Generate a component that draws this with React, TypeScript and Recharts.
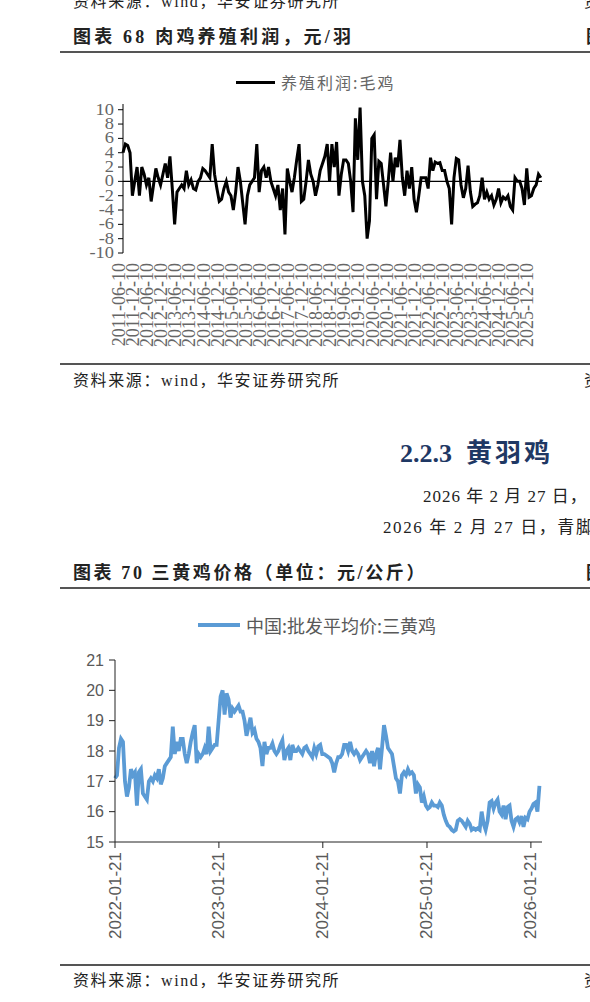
import React from 'react';
import { LineChart, Line, XAxis, YAxis, ReferenceLine } from 'recharts';

// 图表68 肉鸡养殖利润（元/羽），月度，起点 2011-06
const profitTickLabels = [
  '2011-06-10', '2011-12-10', '2012-06-10', '2012-12-10', '2013-06-10', '2013-12-10',
  '2014-06-10', '2014-12-10', '2015-06-10', '2015-12-10', '2016-06-10', '2016-12-10',
  '2017-06-10', '2017-12-10', '2018-06-10', '2018-12-10', '2019-06-10', '2019-12-10',
  '2020-06-10', '2020-12-10', '2021-06-10', '2021-12-10', '2022-06-10', '2022-12-10',
  '2023-06-10', '2023-12-10', '2024-06-10', '2024-12-10', '2025-06-10', '2025-12-10',
];

const profitValues = [
  4, 5.2, 5, 4, -2, 0, 2, -2, 2, 1,
  -0.5, 0.5, -2.8, -0.5, 1.8, 0.5, -0.5, 1, 2.5, 0.5,
  3.5, -1, -6, -1.5, -1, -0.5, -1, 1.5, -0.5, 0.2,
  -1, -1.2, 0, 0.5, 1.8, 1.5, 1, 0.5, 5.2, 1,
  -1, -2.8, -2.5, -1, 0, -1.5, -2, -4, -1.5, 2,
  0, -3, -6, -2, -0.5, 0, 0.5, 5.2, -1.5, 1.5,
  2, 0.5, 2, 0, -1, -2, -0.5, -4, -1, -7.4,
  1.8, 0, -1.5, 0.5, 3, 5.2, -2.8, -2.5, 0, 3,
  1, 0, -2, -0.5, 1.5, 2.5, 3.5, 5.2, 0, 5.2,
  2, 5.5, -2, 1, 3, 3, 2.5, 0, -4.3, 8.8,
  3, 10.3, 0, -2, -8, -5.5, 6, 6.5, -2.5, 2.8,
  2.5, -0.5, -3.5, 0, 4, 0, 3.3, 2, 5.8, 0.5,
  -2, 1.5, -1, 2, -2.5, -4.3, -2, 0.5, 0.5, 0.5,
  -1, 3.3, 1.5, 2.7, 2.5, 2.6, 1.5, 1.5, 0, -1,
  -6, 0.5, 3.2, 3, -0.5, -2.3, -1, 2.2, -1.5, -3.5,
  -3.2, -3, -2, 0.5, -2.5, -1.5, -2.5, -2, -3.3, -2.5,
  -1, -3, -2.2, -2.5, -2, -3.5, -4, 0.5, 0, 0,
  -1, -3.3, 1.8, -2.2, -2, -1, -0.5, 1, 0.5,
];

const profitTicksY = [-10, -8, -6, -4, -2, 0, 2, 4, 6, 8, 10];

// 图表70 中国:批发平均价:三黄鸡（元/公斤），周度，起点 2022-01-21
const priceStart = '2022-01-21';
const priceEnd = '2026-03-01';
const priceTickLabels = ['2022-01-21', '2023-01-21', '2024-01-21', '2025-01-21', '2026-01-21'];
const priceTicksY = [15, 16, 17, 18, 19, 20, 21];

const priceValues = [
  17.1, 17.2, 18.1, 18.4, 18.3, 17.0, 16.5, 16.8, 17.4, 17.2,
  17.3, 16.2, 17.3, 17.4, 16.6, 16.5, 16.4, 17.0, 17.1, 17.0,
  17.2, 17.1, 17.4, 16.9, 17.1, 17.5, 17.6, 17.7, 17.8, 18.8,
  17.9, 18.3, 18.0, 18.4, 18.4, 17.9, 17.6, 17.9, 18.3, 18.6,
  18.85, 17.6, 17.9, 17.8, 17.9, 18.1, 17.9, 18.8, 18.0, 18.1,
  18.2, 18.2, 19.0, 19.8, 20.0, 19.2, 19.9, 19.7, 19.1, 19.4,
  19.3, 19.4, 19.5, 19.3, 19.3, 19.0, 18.5, 18.8, 19.1, 18.6,
  18.7, 18.4, 18.3, 18.1, 17.5, 18.3, 17.9, 18.1, 18.1, 18.25,
  18.0, 17.9, 18.0, 18.2, 18.35, 17.7, 18.0, 18.1, 17.7, 18.2,
  18.0, 18.0, 18.1, 18.0, 17.9, 18.1, 18.15, 18.0, 17.9, 17.8,
  18.1, 17.9, 18.15, 18.2, 17.9, 17.9, 17.85, 17.8, 17.75, 17.6,
  17.3, 17.6, 17.8, 17.8, 17.9, 18.2, 18.2, 18.0, 18.3, 18.0,
  17.9, 18.0, 17.9, 17.7, 17.8, 17.9, 18.0, 17.9, 17.6, 18.0,
  17.5, 17.9, 18.1, 17.4, 18.1, 18.85, 18.5, 18.1, 18.0, 17.9,
  17.5, 17.1, 17.0, 16.6, 17.2, 17.3, 17.2, 17.4, 17.25, 17.3,
  17.2, 16.6, 16.9, 16.8, 16.3, 16.5, 16.2, 16.1, 16.15, 16.3,
  16.2, 16.2, 16.15, 16.3, 16.2, 15.9, 15.7, 15.55, 15.5, 15.4,
  15.35, 15.4, 15.7, 15.75, 15.7, 15.6, 15.5, 15.7, 15.6, 15.4,
  15.45, 15.4, 15.45, 15.4, 16.0, 15.6, 15.4, 15.7, 16.3, 16.35,
  16.1, 16.3, 16.4, 16.0, 15.9, 16.2, 15.75, 16.15, 16.2, 15.7,
  15.5, 15.75, 15.8, 15.65, 15.85, 15.5, 15.8, 15.75, 16.0, 16.1,
  16.25, 16.3, 16.0, 16.85,
];

const WEEK = 7 * 24 * 3600 * 1000;
const priceT0 = Date.parse(priceStart);
const priceData = priceValues.map((v, i) => ({ t: priceT0 + i * WEEK, v }));
const priceTicks = priceTickLabels.map((s) => Date.parse(s));

const profitData = profitValues.map((v, i) => ({ m: i, v }));
const profitTicks = profitTickLabels.map((_, i) => i * 6);

const serif = "'Liberation Serif', 'Noto Sans CJK SC', serif";
const cjk = "'Noto Sans CJK SC', sans-serif";

const ProfitXTick = ({ x, y, payload }: any) => {
  const label = profitTickLabels[Math.round(payload.value / 6)];
  const tx = x - 4;
  const ty = y + 2;
  return (
    <text
      x={tx}
      y={ty}
      transform={`rotate(-90, ${tx}, ${ty})`}
      textAnchor="end"
      dominantBaseline="central"
      fontFamily="'Liberation Serif', serif"
      fontSize={18}
      fill="#666"
    >
      {label}
    </text>
  );
};

// 纵轴数字略微横向拉宽，贴近原图
const ProfitYTick = ({ x, y, payload }: any) => (
  <g transform={`translate(${x}, ${y}) scale(1.15, 1)`}>
    <text
      x={0}
      y={0}
      textAnchor="end"
      dominantBaseline="central"
      fontFamily="'Liberation Serif', serif"
      fontSize={16}
      fill="#666"
    >
      {payload.value}
    </text>
  </g>
);

const PriceXTick = ({ x, y, payload }: any) => {
  const d = new Date(payload.value);
  const label = d.toISOString().slice(0, 10);
  const ty = y + 2;
  return (
    <text
      x={x}
      y={ty}
      transform={`rotate(-90, ${x}, ${ty})`}
      textAnchor="end"
      dominantBaseline="central"
      fontFamily="'Liberation Sans', sans-serif"
      fontSize={17}
      fill="#595959"
    >
      {label}
    </text>
  );
};

const Txt = ({ top, left, size, bold, color, children, family, spacing }: any) => (
  <div
    style={{
      position: 'absolute',
      top: top - size / 2,
      left,
      fontSize: size,
      lineHeight: `${size}px`,
      fontWeight: bold ? 700 : 400,
      color: color || '#222',
      fontFamily: family || serif,
      letterSpacing: spacing || 0,
      whiteSpace: 'nowrap',
    }}
  >
    {children}
  </div>
);

const Rule = ({ top }: { top: number }) => (
  <div style={{ position: 'absolute', top, left: 60, width: 540, height: 2, background: '#555' }} />
);

export default function App() {
  return (
    <div
      style={{
        position: 'absolute',
        left: 0,
        top: 0,
        width: 590,
        height: 1002,
        overflow: 'hidden',
        background: '#fff',
      }}
    >
      <Txt top={2} left={73} size={16} spacing={1.6}>资料来源：wind，华安证券研究所</Txt>
      <Txt top={2} left={584} size={16}>资</Txt>

      <Txt top={37} left={73} size={18} bold spacing={3.2}>图表 68 肉鸡养殖利润，元/羽</Txt>
      <Txt top={37} left={586} size={18} bold>图</Txt>
      <Rule top={51} />

      {/* 图例 1 */}
      <div style={{ position: 'absolute', top: 81, left: 236, width: 39, height: 3, background: '#000' }} />
      <Txt top={82} left={281} size={16} color="#666" family={cjk} spacing={2}>养殖利润:毛鸡</Txt>

      <div style={{ position: 'absolute', top: 0, left: 0 }}>
        <LineChart
          width={590}
          height={360}
          data={profitData}
          margin={{ top: 104, right: 48, bottom: 7, left: 63 }}
        >
          <XAxis
            dataKey="m"
            type="number"
            domain={[0, 178.5]}
            ticks={profitTicks}
            interval={0}
            axisLine={false}
            tickLine={false}
            height={100}
            tick={<ProfitXTick />}
          />
          <YAxis
            type="number"
            domain={[-10, 10.8]}
            ticks={profitTicksY}
            interval={0}
            allowDataOverflow
            width={60}
            stroke="#000"
            tickSize={5}
            tickMargin={4}
            tick={<ProfitYTick />}
          />
          <ReferenceLine y={0} stroke="#000" strokeWidth={1.2} />
          <Line
            type="linear"
            dataKey="v"
            stroke="#000"
            strokeWidth={3}
            dot={false}
            isAnimationActive={false}
          />
        </LineChart>
      </div>

      <Rule top={363} />
      <Txt top={381} left={73} size={16} spacing={1.6}>资料来源：wind，华安证券研究所</Txt>
      <Txt top={381} left={584} size={16}>资</Txt>

      <div
        style={{
          position: 'absolute',
          top: 440,
          left: 400,
          fontSize: 26,
          lineHeight: '28px',
          fontWeight: 700,
          color: '#1F3864',
          fontFamily: serif,
          whiteSpace: 'nowrap',
        }}
      >
        2.2.3<span style={{ marginLeft: 14, letterSpacing: 3 }}>黄羽鸡</span>
      </div>

      <Txt top={496} left={423} size={17} spacing={1}>2026 年 2 月 27 日，</Txt>
      <Txt top={527} left={383} size={17} spacing={1.6}>2026 年 2 月 27 日，青脚</Txt>

      <Txt top={573} left={73} size={18} bold spacing={2.6}>图表 70 三黄鸡价格（单位：元/公斤）</Txt>
      <Txt top={573} left={586} size={18} bold>图</Txt>
      <Rule top={587} />

      {/* 图例 2 */}
      <div style={{ position: 'absolute', top: 623, left: 198, width: 42, height: 4, background: '#5B9BD5' }} />
      <Txt top={625} left={246} size={18} color="#595959" family={cjk}>中国:批发平均价:三黄鸡</Txt>

      <div style={{ position: 'absolute', top: 600, left: 0 }}>
        <LineChart
          width={590}
          height={350}
          data={priceData}
          margin={{ top: 60, right: 48, bottom: 8, left: 55 }}
        >
          <XAxis
            dataKey="t"
            type="number"
            scale="time"
            domain={[priceT0, Date.parse(priceEnd)]}
            ticks={priceTicks}
            interval={0}
            height={100}
            stroke="#222"
            tickSize={6}
            tick={<PriceXTick />}
          />
          <YAxis
            type="number"
            domain={[15, 21]}
            ticks={priceTicksY}
            interval={0}
            width={60}
            stroke="#222"
            tickSize={6}
            tickMargin={5}
            tick={{ fill: '#595959', fontSize: 16, fontFamily: "'Liberation Sans', sans-serif" }}
          />
          <Line
            type="linear"
            dataKey="v"
            stroke="#5B9BD5"
            strokeWidth={3.8}
            dot={false}
            isAnimationActive={false}
          />
        </LineChart>
      </div>

      <Rule top={964} />
      <Txt top={981} left={73} size={16} spacing={1.6}>资料来源：wind，华安证券研究所</Txt>
      <Txt top={981} left={584} size={16}>资</Txt>
    </div>
  );
}
